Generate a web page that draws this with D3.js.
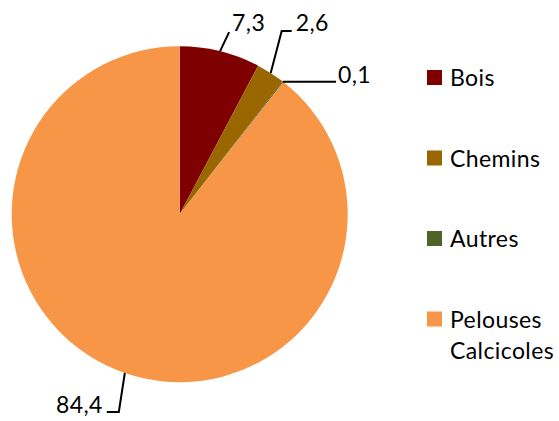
<!DOCTYPE html>
<html><head><meta charset="utf-8">
<script src="https://cdn.jsdelivr.net/npm/d3@7"></script>
<style>body{margin:0;background:#fff}svg{display:block}text{font-family:Lato,"Open Sans",sans-serif;fill:#000;letter-spacing:0.4px}</style>
</head><body>
<script>
const categories = ["Bois", "Chemins", "Autres", "Pelouses Calcicoles"];
const values = [7.3, 2.6, 0.1, 84.4];
const valueLabels = ["7,3", "2,6", "0,1", "84,4"];
const colors = ["#7F0000", "#996600", "#4F6228", "#F79646"];

const W = 559, H = 421;
const cx = 179.7, cy = 214.2, R = 168;
const svg = d3.select("body").append("svg").attr("width", W).attr("height", H);

const pie = d3.pie().sort(null).value(d => d)(values);
const arc = d3.arc().innerRadius(0).outerRadius(R);
const g = svg.append("g").attr("transform", `translate(${cx},${cy})`);
g.selectAll("path").data(pie).enter().append("path")
  .attr("d", arc).attr("fill", (d, i) => colors[i]);

// leader line layout (relative offsets from edge point), per slice
const leaders = [
  {pts: [[9, -19]], tx: 12, ty: -28, anchor: "start"},
  {pts: [[11, -42], [21, -42]], tx: 25, ty: -50, anchor: "start"},
  {pts: [[53, 0]], tx: 55, ty: -7, anchor: "start"},
  {pts: [[-6, 39], [-18, 39]], tx: -22, ty: 32, anchor: "end"}
];
pie.forEach((d, i) => {
  const a = (d.startAngle + d.endAngle) / 2;
  const ex = R * Math.sin(a), ey = -R * Math.cos(a);
  const L = leaders[i];
  const pts = [[ex, ey]].concat(L.pts.map(p => [ex + p[0], ey + p[1]]));
  g.append("path").attr("d", d3.line()(pts)).attr("fill", "none")
    .attr("stroke", "#000").attr("stroke-width", 2);
  g.append("text").attr("x", ex + L.tx).attr("y", ey + L.ty)
    .attr("dy", "0.35em").attr("text-anchor", L.anchor)
    .style("font-size", "23px").text(valueLabels[i]);
});

// legend
const lg = svg.append("g");
categories.forEach((c, i) => {
  const y = 70 + i * 80.5;
  lg.append("rect").attr("x", 427).attr("y", y).attr("width", 15).attr("height", 15)
    .attr("fill", colors[i]);
  const words = c === "Pelouses Calcicoles" ? ["Pelouses", "Calcicoles"] : [c];
  words.forEach((w, j) => {
    lg.append("text").attr("x", 450).attr("y", y + 16 + j * 31)
      .style("font-size", "23px").text(w);
  });
});
</script>
</body></html>
